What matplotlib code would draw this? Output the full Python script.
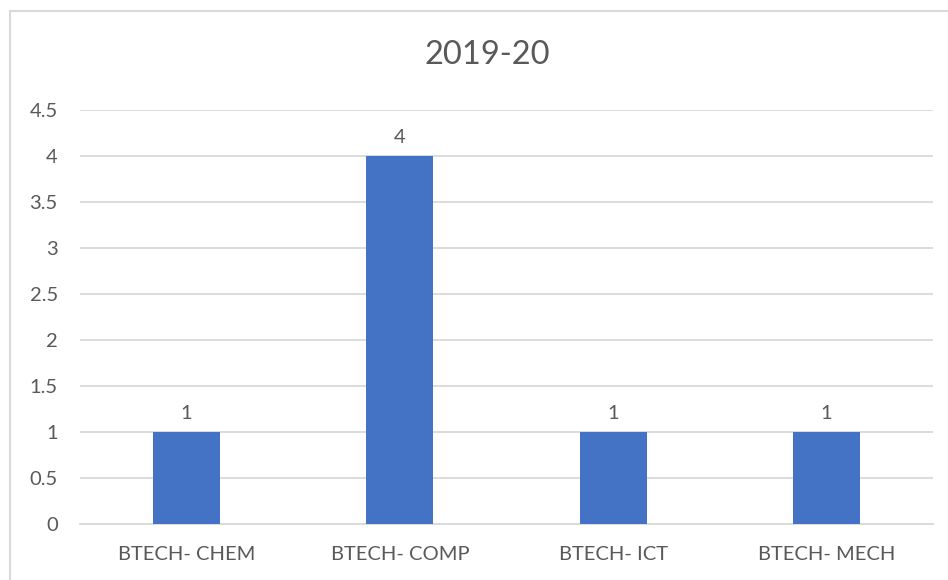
import matplotlib
matplotlib.use("Agg")
import matplotlib.pyplot as plt
from matplotlib.patches import Rectangle

# dados do gráfico
cursos = ["BTECH- CHEM", "BTECH- COMP", "BTECH- ICT", "BTECH- MECH"]
valores = [1, 4, 1, 1]
yticks = [0, 0.5, 1, 1.5, 2, 2.5, 3, 3.5, 4, 4.5]
titulo = "2019-20"

plt.rcParams["font.family"] = ["Lato", "DejaVu Sans"]
cor_texto = "#595959"
cor_grade = "#d9d9d9"

fig = plt.figure(figsize=(9.48, 5.8), dpi=100)
ax = fig.add_axes([80 / 948, 56 / 580, 853 / 948, 414 / 580])

x = range(len(cursos))
barras = ax.bar(x, valores, width=0.315, color="#4472c4", zorder=3)
ax.bar_label(barras, labels=[str(v) for v in valores], padding=7,
             fontsize=14.5, color=cor_texto)

ax.set_xlim(-0.5, len(cursos) - 0.5)
ax.set_ylim(0, 4.5)
ax.set_yticks(yticks)
ax.set_yticklabels([f"{t:g}" for t in yticks], fontsize=14.5, color=cor_texto)
ax.set_xticks(list(x))
ax.set_xticklabels(cursos, fontsize=14.5, color=cor_texto)
ax.tick_params(length=0, axis="y", pad=16)
ax.tick_params(length=0, axis="x", pad=16)
ax.grid(axis="y", color=cor_grade, linewidth=1.3, zorder=0)
for lado in ["top", "right", "left"]:
    ax.spines[lado].set_visible(False)
ax.spines["bottom"].set_color(cor_grade)
ax.spines["bottom"].set_linewidth(1.3)

fig.text(487 / 948, 1 - 55 / 580, titulo, ha="center", va="center",
         fontsize=23.5, color=cor_texto)

# borda do gráfico
fig.patches.append(Rectangle((10 / 948, -0.1), 1.1, 1 - 11 / 580 + 0.1,
                             transform=fig.transFigure, fill=False,
                             edgecolor=cor_grade, linewidth=1.5))

fig.savefig("out.png", dpi=100)
